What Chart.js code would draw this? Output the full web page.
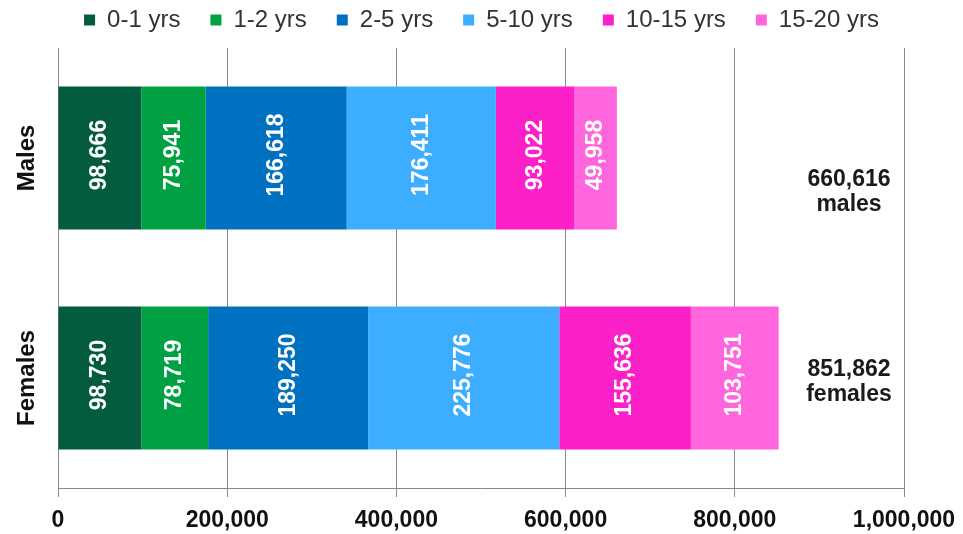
<!DOCTYPE html>
<html><head><meta charset="utf-8">
<script src="https://cdn.jsdelivr.net/npm/chart.js@4.4.1/dist/chart.umd.min.js"></script>
<style>html,body{margin:0;padding:0;background:#fff}canvas{display:block}</style>
</head><body>
<canvas id="c" width="963" height="534"></canvas>
<script>
const categories = ['Males', 'Females'];
const seriesNames = ['0-1 yrs', '1-2 yrs', '2-5 yrs', '5-10 yrs', '10-15 yrs', '15-20 yrs'];
const age0to1 = [98666, 98730];
const age1to2 = [75941, 78719];
const age2to5 = [166618, 189250];
const age5to10 = [176411, 225776];
const age10to15 = [93022, 155636];
const age15to20 = [49958, 103751];
const totalWords = ['males', 'females'];
const xTickValues = [0, 200000, 400000, 600000, 800000, 1000000];

const seriesValues = [age0to1, age1to2, age2to5, age5to10, age10to15, age15to20];
const seriesColors = ['#035C3F', '#00A143', '#0070C0', '#3DAEFF', '#FB20C7', '#FF66DD'];
const FONT = '"Liberation Sans", Arial, sans-serif';
const fmt = v => v.toLocaleString('en-US');
const totals = categories.map((_, i) => seriesValues.reduce((s, arr) => s + arr[i], 0));

const legendSpacing = {
  id: 'legendSpacing',
  afterInit(chart) {
    const lg = chart.legend;
    if (!lg) return;
    const orig = lg.fit;
    lg.fit = function () { orig.call(this); this.height = 70; };
  }
};

const barLabels = {
  id: 'barLabels',
  afterDatasetsDraw(chart) {
    const ctx = chart.ctx;
    ctx.save();
    ctx.font = 'bold 23px ' + FONT;
    ctx.fillStyle = '#ffffff';
    ctx.textAlign = 'center';
    ctx.textBaseline = 'middle';
    chart.data.datasets.forEach((ds, di) => {
      const meta = chart.getDatasetMeta(di);
      meta.data.forEach((bar, i) => {
        const cx = (bar.x + bar.base) / 2;
        ctx.save();
        ctx.translate(cx, bar.y - 3);
        ctx.rotate(-Math.PI / 2);
        ctx.fillText(fmt(ds.data[i]), 0, 0);
        ctx.restore();
      });
    });
    const xs = chart.scales.x, ys = chart.scales.y;
    const tx = xs.getPixelForValue(935000);
    const offsets = [34, 4];
    ctx.fillStyle = '#1a1a1a';
    categories.forEach((c, i) => {
      const cy = ys.getPixelForValue(i) + offsets[i];
      ctx.fillText(fmt(totals[i]), tx, cy - 12.5);
      ctx.fillText(totalWords[i], tx, cy + 12.5);
    });
    ctx.restore();
  }
};

new Chart(document.getElementById('c'), {
  type: 'bar',
  data: {
    labels: categories,
    datasets: seriesNames.map((n, i) => ({
      label: n,
      data: seriesValues[i],
      backgroundColor: seriesColors[i],
      borderWidth: 0,
      barPercentage: 0.65,
      categoryPercentage: 1.0
    }))
  },
  options: {
    indexAxis: 'y',
    responsive: false,
    animation: false,
    layout: { padding: { top: -22, right: 0, left: 0, bottom: 0 } },
    plugins: {
      legend: {
        position: 'top',
        align: 'center',
        labels: {
          boxWidth: 11,
          boxHeight: 11,
          padding: 30,
          color: '#333333',
          font: { family: FONT, size: 24 }
        }
      },
      tooltip: { enabled: false }
    },
    scales: {
      x: {
        stacked: true,
        min: 0,
        max: 1000000,
        afterBuildTicks: s => { s.ticks = xTickValues.map(v => ({ value: v })); },
        afterFit: s => { s.height = 46; s.paddingRight = 0; s.paddingLeft = 0; },
        grid: { color: '#8a8a8a', lineWidth: 1, drawTicks: true, tickLength: 9 },
        border: { display: true, color: '#8a8a8a', width: 1 },
        ticks: {
          padding: 10,
          color: '#111111',
          maxRotation: 0,
          font: { family: FONT, size: 23, weight: 'bold' },
          callback: v => fmt(v)
        }
      },
      y: {
        stacked: true,
        afterFit: s => { s.width = 58; },
        grid: { display: false, drawTicks: false },
        border: { display: false },
        ticks: {
          minRotation: 90,
          maxRotation: 90,
          crossAlign: 'center',
          padding: -17,
          color: '#111111',
          font: { family: FONT, size: 24, weight: 'bold' }
        }
      },
      yRight: {
        type: 'linear',
        position: 'right',
        display: true,
        afterFit: s => { s.width = 59; },
        grid: { display: false, drawTicks: false },
        border: { display: false },
        ticks: { display: false }
      }
    }
  },
  plugins: [legendSpacing, barLabels]
});
</script>
</body></html>
